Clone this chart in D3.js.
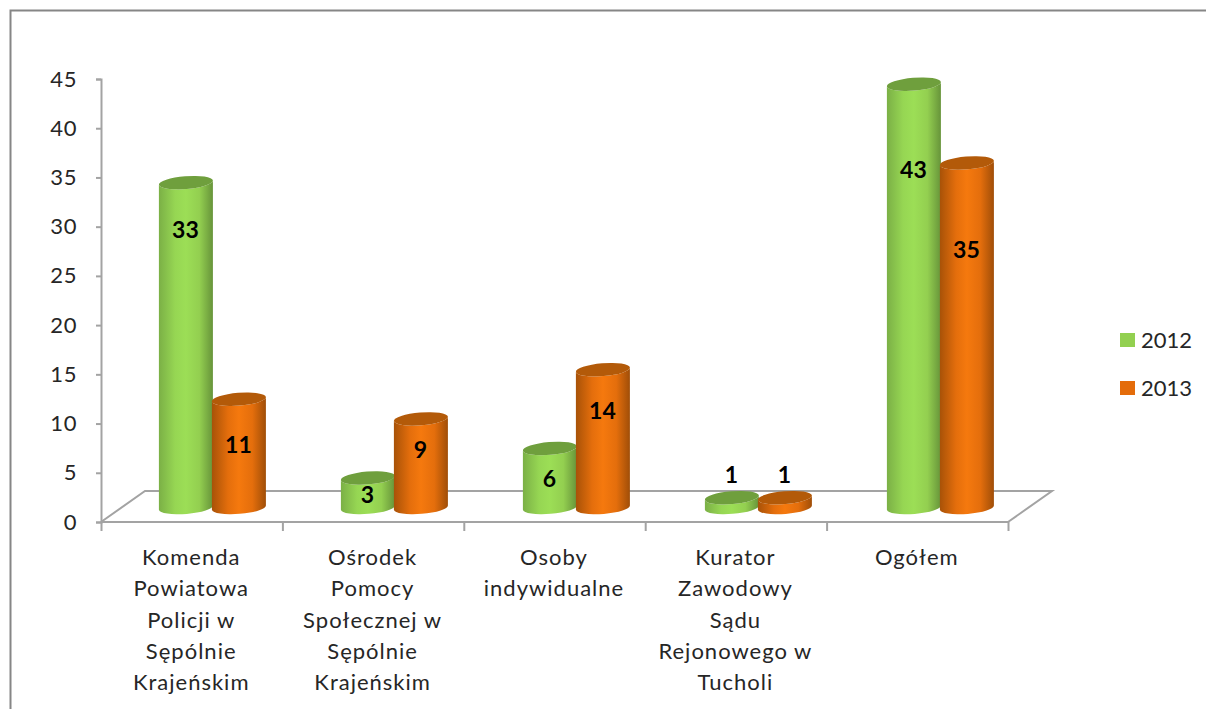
<!DOCTYPE html>
<html lang="pl">
<head>
<meta charset="utf-8">
<script src="https://cdn.jsdelivr.net/npm/d3@7"></script>
<style>
html,body{margin:0;padding:0;background:#fff;overflow:hidden}
svg{display:block}
text{font-family:Lato,"Open Sans",sans-serif}
</style>
</head>
<body>
<svg id="c" width="1206" height="709"></svg>
<script>
const categories = [
  ["Komenda","Powiatowa","Policji w","Sępólnie","Krajeńskim"],
  ["Ośrodek","Pomocy","Społecznej w","Sępólnie","Krajeńskim"],
  ["Osoby","indywidualne"],
  ["Kurator","Zawodowy","Sądu","Rejonowego w","Tucholi"],
  ["Ogółem"]
];
const seriesNames = ["2012","2013"];
const values2012 = [33,3,6,1,43];
const values2013 = [11,9,14,1,35];
// height (in axis units) at which each data label sits
const labelLevels2012 = [28.25,1.3,2.9,3.3,34.35];
const labelLevels2013 = [6.4,5.9,9.8,3.3,26.15];
const yTicks = [0,5,10,15,20,25,30,35,40,45];

const svg = d3.select("#c");
const axisGrey = "#a3a3a3";
const depthX = 44, depthY = 31;

const x = d3.scaleBand().domain(d3.range(categories.length)).range([101,1008]);
const xBars = d3.scaleBand().domain(d3.range(categories.length)).range([121.4,1031.4]);
const xEdges = d3.scaleLinear().domain([0,categories.length]).range([101,1008]);
const y = d3.scaleLinear().domain([0,45]).range([522,79]);
const sub = d3.scaleBand().domain(seriesNames).range([-53,53]);

// frame
svg.append("path").attr("d","M1206,10.5H10.5V709").attr("fill","none").attr("stroke","#868686").attr("stroke-width",2);

// gradients
const defs = svg.append("defs");
const grads = {
  "2012":{stops:[["0%","#7bb046"],["30%","#96d653"],["50%","#9cde56"],["75%","#93cf50"],["100%","#67943a"]],top:"#6f9f3d",legend:"#92d050"},
  "2013":{stops:[["0%","#a85208"],["30%","#e46e0c"],["50%","#f5790e"],["75%","#e46e0c"],["100%","#a04e08"]],top:"#b35a09",legend:"#e46c0a"}
};
seriesNames.forEach(s=>{
  const g = defs.append("linearGradient").attr("id","g"+s).attr("x1",0).attr("x2",1).attr("y1",0).attr("y2",0);
  grads[s].stops.forEach(([o,c])=>g.append("stop").attr("offset",o).attr("stop-color",c));
});

// floor
svg.append("path")
  .attr("d",`M${xEdges(0)},${y(0)}L${xEdges(0)+depthX},${y(0)-depthY}H${xEdges(5)+depthX}L${xEdges(5)},${y(0)}`)
  .attr("fill","none").attr("stroke",axisGrey).attr("stroke-width",2);

// y axis
const yAxis = svg.append("g").attr("transform",`translate(${xEdges(0)},0)`)
  .call(d3.axisLeft(y).tickValues(yTicks).tickSize(5).tickSizeOuter(5).tickPadding(19));
yAxis.selectAll("path,line").attr("stroke",axisGrey).attr("stroke-width",2);
yAxis.selectAll("text").attr("font-size",22).attr("fill","#262626").attr("font-family","Lato").attr("letter-spacing",0.6);

// x axis ticks
const xAxis = svg.append("g").attr("transform",`translate(0,${y(0)})`)
  .call(d3.axisBottom(xEdges).tickValues(d3.range(categories.length+1)).tickSize(9).tickFormat(""));
xAxis.selectAll("path,line").attr("stroke",axisGrey).attr("stroke-width",2);
xAxis.select(".domain").attr("d",`M${xEdges(0)},0H${xEdges(5)}`);

// category labels
const lineH = 31.3;
const cat = svg.append("g").selectAll("text").data(categories).join("text")
  .attr("text-anchor","middle").attr("font-size",22).attr("fill","#262626").attr("letter-spacing",1)
  .attr("transform",(d,i)=>`translate(${x(i)+x.bandwidth()/2-0.5},565)`);
cat.selectAll("tspan").data(d=>d).join("tspan")
  .attr("x",0).attr("y",(d,i)=>i*lineH).text(d=>d);

// cylinders
const rx = 27, ry = 6.4, tilt = -4.5;
const lift = 14.5, skew = 2.2;
function cyl(cx, v){
  const yb = y(0)-lift;
  const yt = y(v)-lift;
  const x0 = cx-rx, x1 = cx+rx;
  return {
    body:`M${x0},${yt+skew}L${x0},${yb+skew}A${rx},${ry} ${tilt} 0 0 ${x1},${yb-skew}L${x1},${yt-skew}A${rx},${ry} ${tilt} 0 1 ${x0},${yt+skew}Z`,
    top:`M${x0},${yt+skew}A${rx},${ry} ${tilt} 1 1 ${x1},${yt-skew}A${rx},${ry} ${tilt} 1 1 ${x0},${yt+skew}Z`
  };
}
const series = [
  {name:"2012",vals:values2012,levels:labelLevels2012},
  {name:"2013",vals:values2013,levels:labelLevels2013}
];
const center = i => xBars(i)+xBars.bandwidth()/2;
series.forEach(s=>{
  const g = svg.append("g");
  const bars = g.selectAll("g").data(s.vals).join("g");
  bars.append("path").attr("d",(v,i)=>cyl(center(i)+sub(s.name)+sub.bandwidth()/2,v).body).attr("fill",`url(#g${s.name})`);
  bars.append("path").attr("d",(v,i)=>cyl(center(i)+sub(s.name)+sub.bandwidth()/2,v).top).attr("fill",grads[s.name].top);
});
series.forEach(s=>{
  svg.append("g").selectAll("text").data(s.vals).join("text")
    .attr("x",(v,i)=>center(i)+sub(s.name)+sub.bandwidth()/2-0.5)
    .attr("y",(v,i)=>y(s.levels[i])-lift)
    .attr("dy","0.36em").attr("text-anchor","middle")
    .attr("font-size",23).attr("font-weight",700).attr("fill","#000")
    .text(v=>v);
});

// legend
const leg = svg.append("g").selectAll("g").data(seriesNames).join("g")
  .attr("transform",(d,i)=>`translate(1120,${333+i*48})`);
leg.append("rect").attr("width",15).attr("height",14).attr("fill",d=>grads[d].legend);
leg.append("text").attr("x",21).attr("y",7).attr("dy","0.36em").attr("font-size",22).attr("fill","#262626").text(d=>d);
</script>
</body>
</html>
